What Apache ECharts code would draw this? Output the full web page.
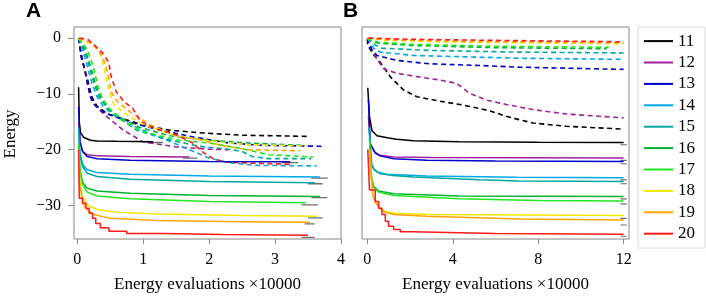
<!DOCTYPE html>
<html><head><meta charset="utf-8">
<script src="https://cdn.jsdelivr.net/npm/echarts@6/dist/echarts.min.js"></script>
<style>html,body{margin:0;padding:0;background:#fff}#c{width:706px;height:298px}</style>
</head><body><div id="c"></div>
<script>
const names = ['11','12','13','14','15','16','17','18','19','20'];
const colors = ['#000000','#a020a0','#0000cd','#00a8e8','#00a99d','#00b22c','#22e622','#f0e800','#ffa500','#ff1a1a'];
const yTicks = [0,-10,-20,-30];
const xTicksA = [0,1,2,3,4];
const xTicksB = [0,4,8,12];

// Panel A, solid lines
const sA11 = [[0.02,-8.8],[0.03,-15],[0.05,-17],[0.1,-17.8],[0.2,-18.3],[0.3,-18.45],[0.6,-18.5],[1.15,-18.55]];
const sA12 = [[0.02,-15],[0.04,-18.5],[0.08,-20.3],[0.15,-20.9],[0.3,-21.1],[0.8,-21.2],[1.7,-21.3]];
const sA13 = [[0.02,-12.3],[0.04,-18.5],[0.08,-20.3],[0.15,-21.2],[0.3,-21.6],[0.8,-21.9],[2.0,-22.1],[3.23,-22.15]];
const sA14 = [[0.02,-16],[0.04,-20.5],[0.08,-22.6],[0.15,-23.6],[0.3,-24.1],[0.8,-24.4],[2.0,-24.7],[3.68,-24.9]];
const sA15 = [[0.02,-17],[0.04,-21],[0.08,-23],[0.15,-24.2],[0.3,-24.8],[0.8,-25.3],[2.0,-25.7],[3.6,-25.9]];
const sA16 = [[0.02,-19],[0.04,-23.5],[0.08,-25.8],[0.15,-26.9],[0.3,-27.4],[0.8,-27.8],[2.0,-28.2],[3.68,-28.4]];
const sA17 = [[0.02,-19],[0.04,-24],[0.08,-26.3],[0.15,-27.6],[0.3,-28.3],[0.8,-28.8],[2.0,-29.3],[3.47,-29.5]];
const sA18 = [[0.02,-20],[0.04,-26],[0.08,-28.5],[0.15,-29.9],[0.3,-30.7],[0.6,-31.2],[1.2,-31.5],[2.5,-31.8],[3.63,-31.9]];
const sA19 = [[0.02,-20],[0.03,-25.4],[0.08,-29.5],[0.15,-30.8],[0.25,-31.6],[0.5,-32.3],[1.2,-32.7],[2.5,-32.9],[3.53,-33.0]];
const sA20 = [[0.02,-20],[0.03,-28.7],[0.08,-29.6],[0.13,-30.5],[0.18,-31.4],[0.23,-32.3],[0.28,-33.2],[0.35,-34.0],[0.48,-34.6],[0.75,-35.0],[1.3,-35.2],[2.2,-35.35],[3.5,-35.45]];

// Panel A, dashed lines
const dA11 = [[0.02,0],[0.04,-1.5],[0.06,-3.5],[0.11,-5.5],[0.16,-7.6],[0.22,-10.5],[0.3,-12.2],[0.46,-13.6],[0.71,-14.5],[1.0,-15.6],[1.4,-16.5],[1.9,-17.0],[2.5,-17.4],[3.48,-17.6]];
const dA12 = [[0.02,0],[0.05,-2],[0.08,-4],[0.13,-6.5],[0.18,-9.5],[0.22,-11.4],[0.3,-12.5],[0.46,-14.2],[0.7,-16.5],[1.0,-18.6],[1.5,-19.5],[2.0,-19.9],[2.3,-20.0]];
const dA13 = [[0.02,0],[0.05,-2.5],[0.1,-5],[0.15,-8],[0.2,-10.5],[0.27,-12],[0.4,-13.3],[0.6,-14.2],[0.9,-15.4],[1.3,-16.6],[1.8,-17.8],[2.3,-18.8],[2.8,-19.2],[3.76,-19.4]];
const dA14 = [[0.02,0],[0.08,-2],[0.15,-5],[0.22,-8],[0.3,-10.5],[0.4,-12.3],[0.55,-13.8],[0.8,-15.5],[1.2,-17.5],[1.6,-19.5],[2.0,-21.5],[2.3,-22.3],[2.7,-22.8],[3.63,-22.9]];
const dA15 = [[0.02,0],[0.1,-2],[0.18,-5],[0.25,-8],[0.33,-10.5],[0.45,-12.5],[0.6,-14],[0.9,-16.5],[1.3,-18.0],[1.86,-19.4],[2.3,-19.9],[2.5,-20.3],[2.65,-21.2],[2.9,-21.6],[3.55,-21.6]];
const dA16 = [[0.02,0],[0.12,-2],[0.2,-5],[0.27,-8],[0.35,-10.5],[0.48,-12.7],[0.65,-14.2],[0.95,-16],[1.4,-17.5],[2.0,-18.3],[2.6,-18.8],[3.4,-19.2]];
const dA17 = [[0.02,0],[0.15,-2],[0.24,-5],[0.31,-8.5],[0.38,-10.8],[0.5,-12.8],[0.65,-14.5],[1.0,-16.8],[1.5,-18.2],[2.0,-18.8],[2.5,-19.8],[2.9,-20.9],[3.58,-21.3]];
const dA18 = [[0.02,0],[0.2,-1],[0.33,-2.3],[0.41,-5.5],[0.48,-9.6],[0.56,-12],[0.71,-13.4],[1.0,-15.5],[1.5,-17.5],[2.0,-18.4],[2.6,-19.1],[3.5,-19.3]];
const dA19 = [[0.02,0],[0.25,-1],[0.38,-3.2],[0.46,-6.1],[0.51,-9.6],[0.61,-11.4],[0.8,-13.2],[1.1,-15.5],[1.5,-17.5],[1.9,-18.3],[2.2,-19.3],[2.6,-20.0],[3.38,-20.2]];
const dA20 = [[0.03,0],[0.16,-0.2],[0.38,-2.6],[0.48,-4.4],[0.51,-6.7],[0.59,-9.6],[0.71,-11.4],[0.84,-12.6],[0.96,-14.9],[1.2,-16.3],[1.5,-17.3],[1.75,-18.8],[1.91,-20.5],[2.06,-21.6],[2.24,-22.2],[2.6,-22.4],[3.23,-22.6]];

// Panel B, solid lines
const sB11 = [[0.02,-8.9],[0.1,-14],[0.22,-16.6],[0.45,-17.5],[1.0,-17.9],[1.38,-18.1],[2.15,-18.4],[4.3,-18.55],[8,-18.65],[12,-18.7]];
const sB12 = [[0.05,-14],[0.14,-19],[0.37,-20.5],[0.6,-21.0],[1.23,-21.3],[3,-21.4],[12,-21.5]];
const sB13 = [[0.05,-11],[0.14,-19],[0.37,-20.6],[0.6,-21.1],[1.23,-21.6],[2.78,-21.9],[6,-22.0],[12,-22.1]];
const sB14 = [[0.08,-16],[0.2,-22.5],[0.3,-23.4],[0.45,-24.0],[0.92,-24.4],[2.78,-24.7],[7,-24.95],[12,-25.0]];
const sB15 = [[0.08,-16],[0.2,-22.7],[0.3,-23.5],[0.6,-24.3],[1.2,-24.6],[2.16,-24.9],[5.27,-25.4],[7.1,-25.6],[12,-25.7]];
const sB16 = [[0.1,-18],[0.2,-25],[0.3,-26.6],[0.53,-27.4],[1.23,-27.9],[4.3,-28.3],[12,-28.4]];
const sB17 = [[0.1,-18],[0.2,-25.5],[0.3,-26.8],[0.53,-27.6],[1.23,-28.2],[4.3,-28.8],[8,-29.1],[12,-29.2]];
const sB18 = [[0.1,-20],[0.25,-28],[0.37,-29.3],[0.53,-30.2],[0.76,-31.0],[1.23,-31.4],[3,-31.6],[12,-31.8]];
const sB19 = [[0.1,-20],[0.25,-28],[0.37,-29.4],[0.53,-30.3],[0.76,-31.1],[1.23,-31.6],[2.78,-31.9],[7.1,-32.4],[12,-32.6]];
const sB20 = [[0.02,-19.9],[0.1,-27.2],[0.37,-29.3],[0.53,-30.5],[0.68,-31.6],[0.84,-32.8],[0.99,-33.7],[1.23,-34.3],[1.54,-34.7],[2.16,-35.0],[6,-35.15],[12,-35.2]];

// Panel B, dashed lines
const dB11 = [[0,-0.2],[0.02,-1.35],[0.3,-3],[0.6,-4.3],[1.07,-6.9],[1.7,-9.3],[2.32,-10.5],[3.4,-11.3],[4.5,-12.0],[5.7,-13.0],[6.5,-14.0],[7.1,-14.6],[7.75,-15.2],[9.3,-15.8],[12,-16.3]];
const dB12 = [[0,0],[0.2,-2],[0.45,-3.7],[0.76,-5.5],[1.38,-6.3],[2.32,-6.9],[3.4,-7.5],[4.18,-8.1],[4.8,-9.9],[5.58,-11.1],[6.51,-11.9],[7.75,-12.8],[9.3,-13.6],[10.9,-14.0],[12,-14.3]];
const dB13 = [[0,0],[0.2,-2],[0.45,-3.1],[1.38,-4.0],[2.94,-4.6],[5.27,-4.9],[7.1,-5.2],[12,-5.6]];
const dB14 = [[0,0],[0.3,-1.8],[0.6,-2.5],[2.16,-3.1],[7.1,-3.6],[11.9,-3.8]];
const dB15 = [[0,0],[0.4,-1.3],[0.7,-1.8],[2.94,-2.2],[7,-2.5],[12,-2.65]];
const dB16 = [[0,0],[0.5,-0.9],[2,-1.3],[6,-1.7],[11.2,-1.9]];
const dB17 = [[0,0],[0.5,-0.7],[2,-1.1],[6,-1.45],[11.3,-1.65]];
const dB18 = [[0,0],[1,-0.4],[4,-0.7],[12,-1.0]];
const dB19 = [[0,0],[1,-0.3],[4,-0.55],[12,-0.85]];
const dB20 = [[0.06,0],[2,-0.2],[6,-0.4],[12,-0.65]];

// grey end marks [xStart, xEnd, value]
const greyA = [[1.05,1.3,-18.7],[1.6,1.82,-21.5],[3.1,3.35,-22.3],[3.55,3.8,-25.1],[3.5,3.72,-26.1],[3.55,3.79,-28.6],[3.4,3.65,-29.9],[3.5,3.72,-32.2],[3.45,3.6,-33.3],[3.4,3.6,-35.7]];
const greyB = [[11.85,12.15,-19.1],[11.85,12.15,-21.9],[11.85,12.15,-22.5],[11.85,12.15,-25.4],[11.85,12.15,-26.1],[11.85,12.15,-28.8],[11.85,12.15,-29.7],[11.85,12.15,-32.3],[11.85,12.15,-33.5],[11.85,12.15,-35.5]];

const solidA = [sA11,sA12,sA13,sA14,sA15,sA16,sA17,sA18,sA19,sA20];
const dashA = [dA11,dA12,dA13,dA14,dA15,dA16,dA17,dA18,dA19,dA20];
const solidB = [sB11,sB12,sB13,sB14,sB15,sB16,sB17,sB18,sB19,sB20];
const dashB = [dB11,dB12,dB13,dB14,dB15,dB16,dB17,dB18,dB19,dB20];

const serif = "'Liberation Serif', 'Times New Roman', 'DejaVu Serif', serif";
const series = [];
function addLine(name, data, color, idx, dashed, step, z, width) {
  series.push({type:'line', name, data, xAxisIndex:idx, yAxisIndex:idx, symbol:'none', showSymbol:false,
    step: step || false, z, silent:true, animation:false,
    itemStyle:{color},
    lineStyle:{color, width: width, type: dashed ? [5,3.5] : 'solid'}});
}
for (let i = 0; i < 10; i++) {
  addLine(names[i], solidA[i], colors[i], 0, false, i === 9 ? 'end' : false, 4, 1.5);
}
for (let i = 0; i < 10; i++) {
  addLine('dA' + names[i], dashA[i], colors[i], 0, true, false, 3, 1.6);
  addLine('dB' + names[i], dashB[i], colors[i], 1, true, false, 3, 1.6);
  addLine('sB' + names[i], solidB[i], colors[i], 1, false, i === 9 ? 'end' : false, 4, 1.5);
  addLine('gA' + names[i], [[greyA[i][0], greyA[i][2]], [greyA[i][1], greyA[i][2]]], '#6e6e6e', 0, false, false, 2, 1.3);
  addLine('gB' + names[i], [[greyB[i][0], greyB[i][2]], [greyB[i][1], greyB[i][2]]], '#6e6e6e', 1, false, false, 2, 1.1);
}

const fmt = v => (v < 0 ? '\u2212' + Math.abs(v) : String(v));
function xAxis(idx, min, max, ticks) {
  return {type:'value', gridIndex:idx, min, max,
    name:'Energy evaluations \u00d710000', nameLocation:'middle', nameGap:37,
    nameTextStyle:{fontFamily:serif, fontSize:17, color:'#000'},
    axisLine:{show:false, onZero:false}, splitLine:{show:false},
    axisTick:{show:true, length:5, lineStyle:{color:'#888'}, customValues:ticks},
    axisLabel:{show:true, margin:13, fontFamily:serif, fontSize:16, color:'#000', customValues:ticks, formatter:fmt}};
}
function yAxis(idx, showLabels) {
  return {type:'value', gridIndex:idx, min:-36, max:2,
    axisLine:{show:false, onZero:false}, splitLine:{show:false},
    axisTick:{show:showLabels, length:6, lineStyle:{color:'#888'}, customValues:yTicks},
    axisLabel:{show:showLabels, margin:13, fontFamily:serif, fontSize:16, color:'#000', customValues:yTicks, formatter:fmt}};
}

const legendData = names.map((n, i) => ({name:n, icon:'rect', itemStyle:{color:colors[i], borderWidth:0}}));

const chart = echarts.init(document.getElementById('c'), null, {renderer:'canvas'});
chart.setOption({
  animation:false,
  backgroundColor:'#fff',
  grid:[
    {left:74, top:27, width:267, height:216, show:true, borderColor:'#888', borderWidth:1, backgroundColor:'transparent'},
    {left:362, top:27, width:267, height:216, show:true, borderColor:'#888', borderWidth:1, backgroundColor:'transparent'}
  ],
  xAxis:[xAxis(0, -0.05, 4, xTicksA), xAxis(1, -0.25, 12.25, xTicksB)],
  yAxis:[yAxis(0, true), yAxis(1, false)],
  legend:{data:legendData, orient:'vertical', left:638, top:27,
    padding:[5.6,10,5.8,6], itemWidth:29, itemHeight:2, itemGap:4.4,
    borderColor:'#dcdcdc', borderWidth:1, backgroundColor:'#fff',
    textStyle:{fontFamily:serif, fontSize:17, color:'#000'},
    selectedMode:false},
  graphic:[
    {type:'text', left:26, top:1, style:{text:'A', font:'bold 21px "Liberation Sans", Arial, sans-serif', fill:'#000'}},
    {type:'text', left:343, top:1, style:{text:'B', font:'bold 21px "Liberation Sans", Arial, sans-serif', fill:'#000'}},
    {type:'text', x:11, y:134, rotation:Math.PI/2, style:{text:'Energy', font:"17px 'Liberation Serif', 'Times New Roman', serif", fill:'#000', align:'center', verticalAlign:'middle'}}
  ],
  series
});
</script></body></html>
